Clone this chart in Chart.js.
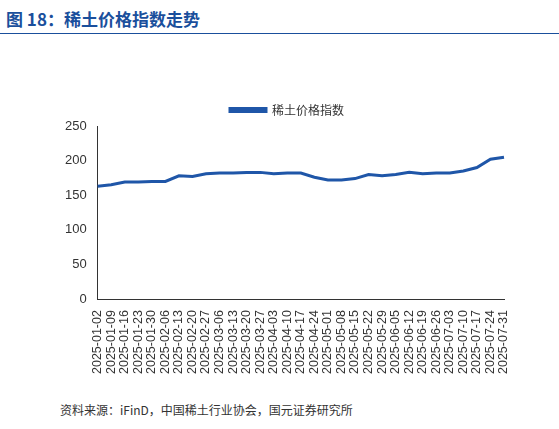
<!DOCTYPE html>
<html><head><meta charset="utf-8">
<script src="https://cdn.jsdelivr.net/npm/chart.js@4"></script>
<style>
body{margin:0;width:559px;height:429px;background:#fff;font-family:"Noto Sans CJK SC",sans-serif;position:relative}
#t{position:absolute;left:6px;top:6px;font-size:17px;font-weight:bold;color:#1a4f9c}
#line{position:absolute;left:0;top:33px;width:559px;border-top:1px solid #1a4f9c}
#src{position:absolute;left:60px;top:401px;font-size:12px;color:#333}
#w{position:absolute;left:62px;top:72px;width:460px;height:305px}
</style></head><body>
<div id="t">图 18：稀土价格指数走势</div>
<div id="line"></div>
<div id="w"><canvas id="c"></canvas></div>
<div id="src">资料来源：iFinD，中国稀土行业协会，国元证券研究所</div>
<script>
var dates = ['2025-01-02','2025-01-09','2025-01-16','2025-01-23','2025-01-30','2025-02-06','2025-02-13','2025-02-20','2025-02-27','2025-03-06','2025-03-13','2025-03-20','2025-03-27','2025-04-03','2025-04-10','2025-04-17','2025-04-24','2025-05-01','2025-05-08','2025-05-15','2025-05-22','2025-05-29','2025-06-05','2025-06-12','2025-06-19','2025-06-26','2025-07-03','2025-07-10','2025-07-17','2025-07-24','2025-07-31'];
var priceIndex = [163,165,169,169,170,170,178,177,181,182,182,183,183,181,182,182,176,172,172,174,180,178,180,183,181,182,182,185,190,202,205];

new Chart(document.getElementById('c'), {
    type: 'line',
    data: {
        labels: dates,
        datasets: [{
            label: '稀土价格指数',
            data: priceIndex,
            borderColor: '#1f56a8',
            backgroundColor: '#1f56a8',
            borderWidth: 3,
            pointRadius: 0,
            tension: 0
        }]
    },
    options: {
        responsive: true,
        maintainAspectRatio: false,
        animation: false,
        layout: {padding: {right: 10}},
        plugins: {
            legend: {
                labels: {boxWidth: 36, boxHeight: 3, color: '#333', font: {size: 12, family: 'Noto Sans CJK SC'}, padding: 32}
            },
            tooltip: {enabled: false}
        },
        scales: {
            x: {
                grid: {display: false, drawTicks: true},
                border: {color: '#333'},
                ticks: {maxRotation: 90, minRotation: 90, autoSkip: false, color: '#333', font: {size: 12.5, family: 'Liberation Sans'}}
            },
            y: {
                min: 0, max: 250,
                ticks: {stepSize: 50, color: '#333', font: {size: 13, family: 'Liberation Sans'}},
                grid: {display: false},
                border: {color: '#333'}
            }
        }
    }
});
</script>
</body></html>
